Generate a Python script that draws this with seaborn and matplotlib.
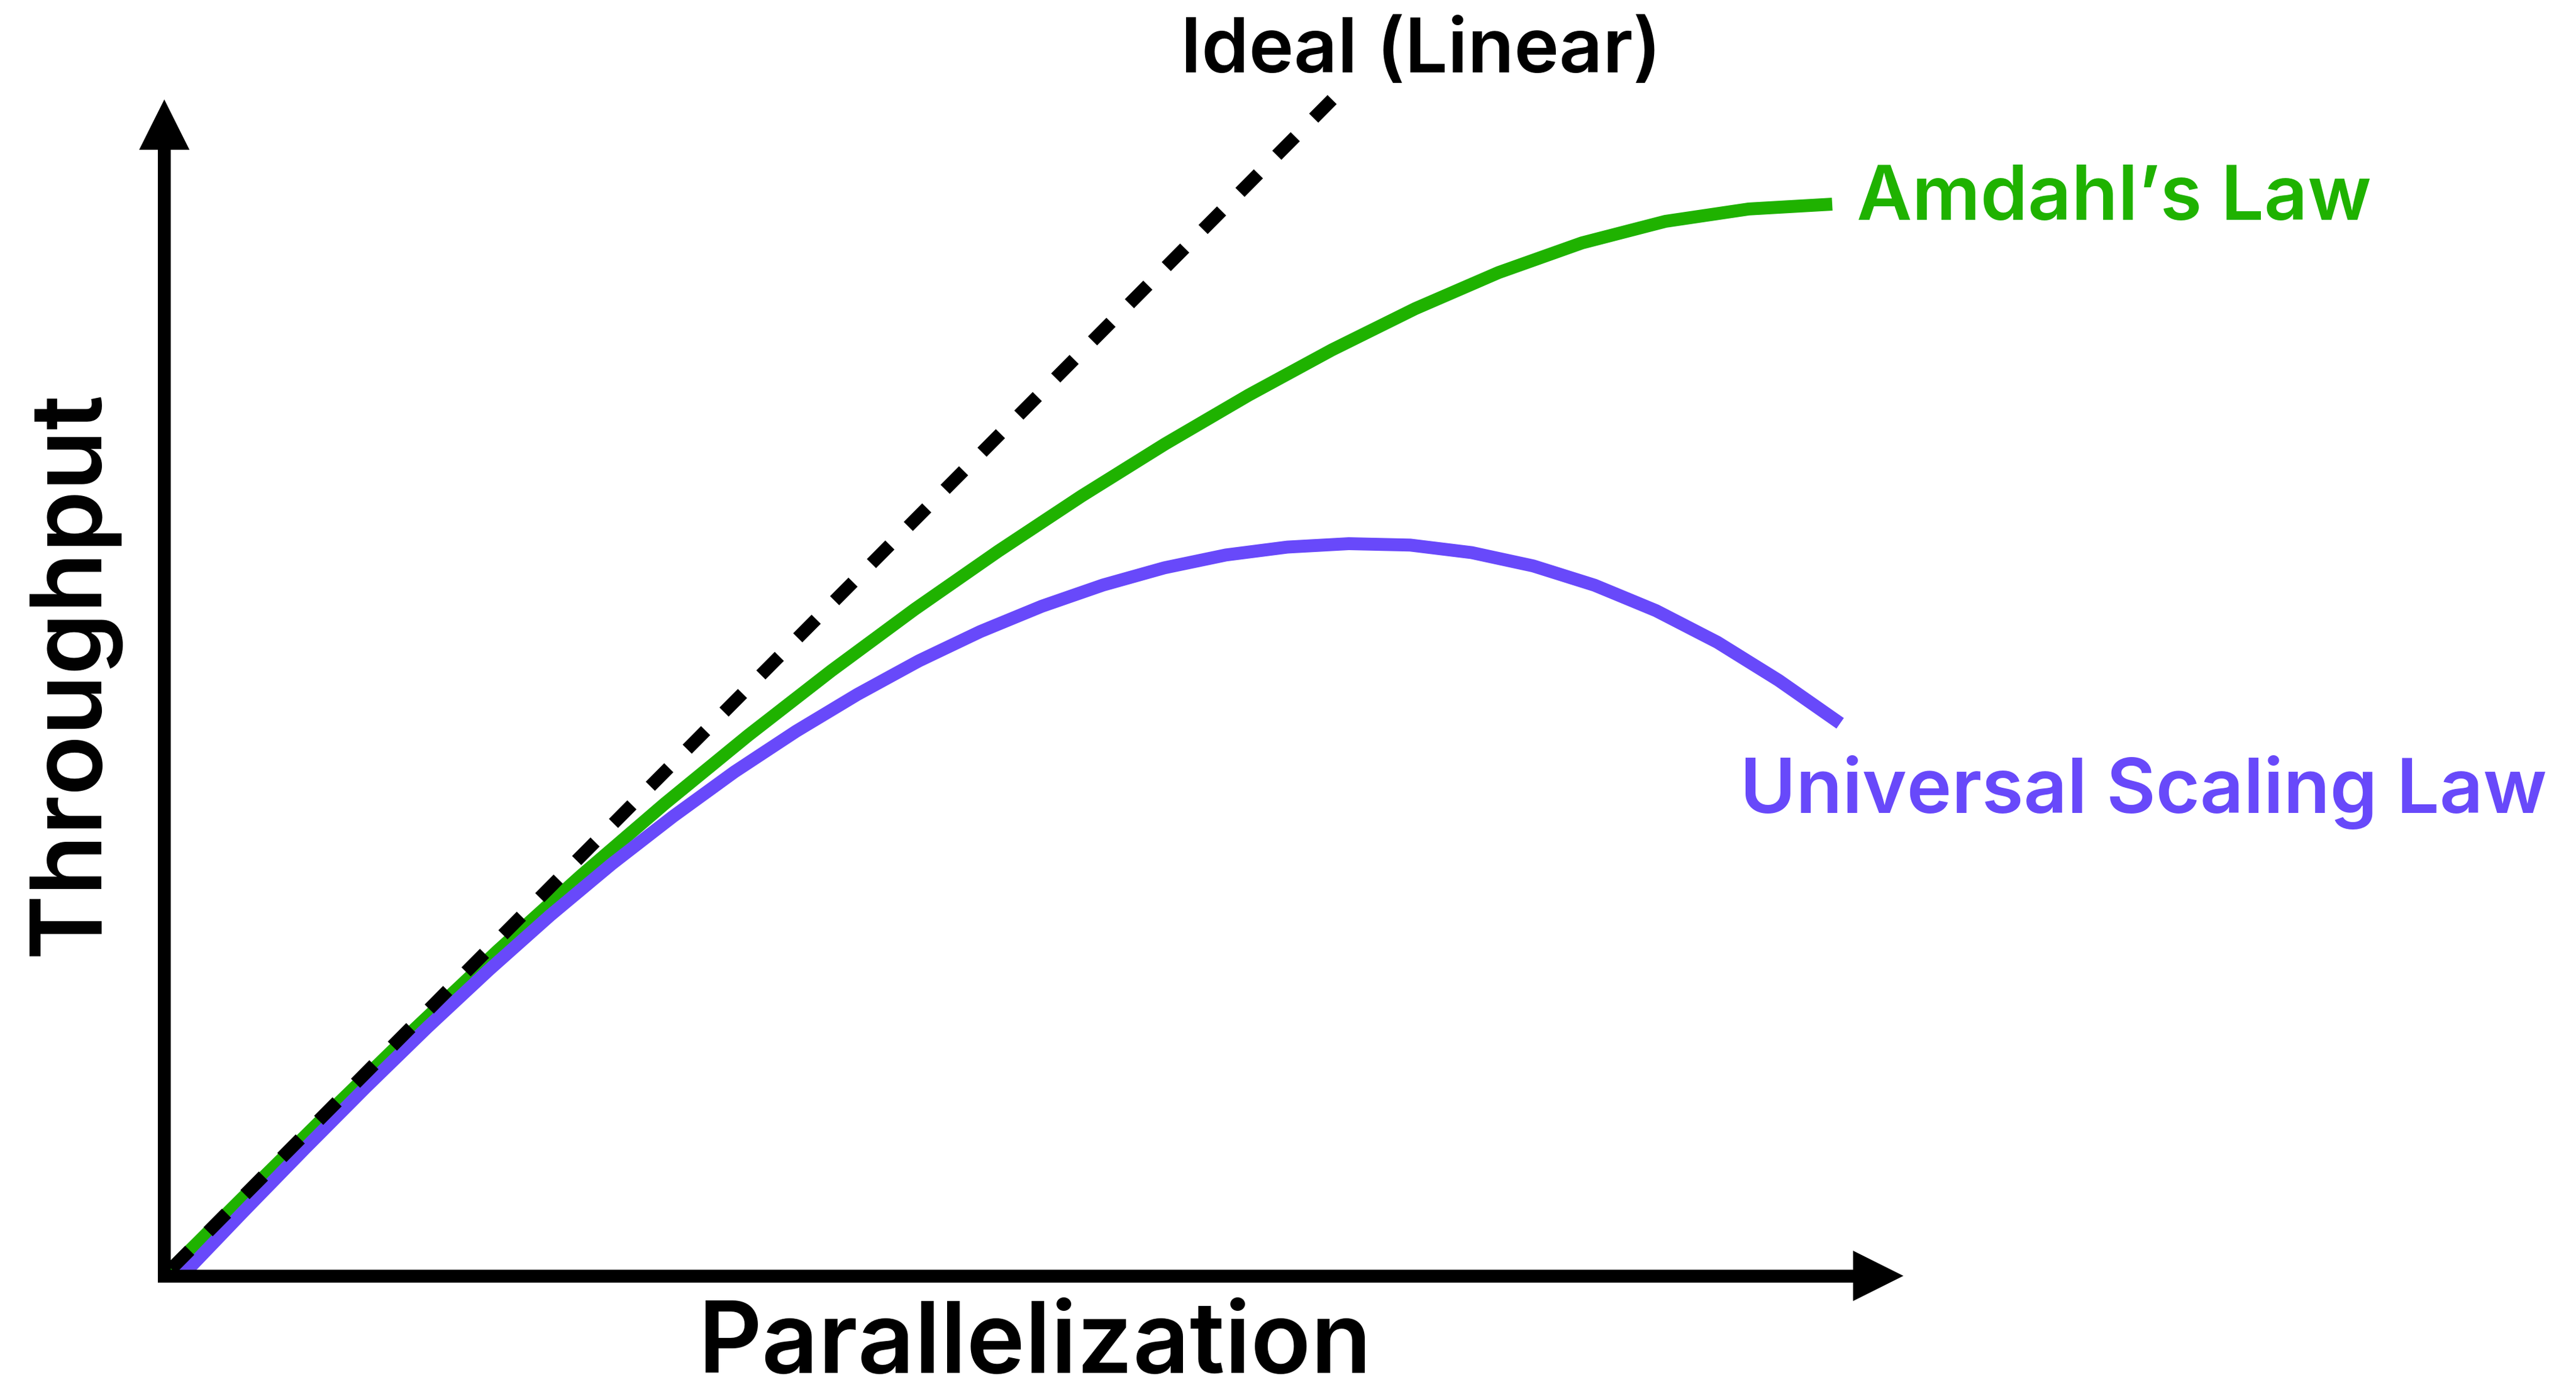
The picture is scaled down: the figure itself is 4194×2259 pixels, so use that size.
import matplotlib
matplotlib.use("Agg")
import matplotlib.pyplot as plt
from matplotlib.patches import Polygon
import seaborn as sns

# Curve samples (parallelization units vs throughput units)
ideal_x = [0, 100]
ideal_y = [0, 100]

amdahl_x = [0, 7.14, 14.28, 21.42, 28.56, 35.70, 42.84, 49.98, 57.12, 64.26,
            71.40, 78.54, 85.68, 92.83, 99.97, 107.11, 114.25, 121.39,
            128.53, 135.67, 142.81]
amdahl_y = [0, 7.06, 14.07, 20.97, 27.65, 34.04, 40.13, 45.93, 51.44, 56.67,
            61.60, 66.29, 70.71, 74.86, 78.71, 82.22, 85.29, 87.81,
            89.64, 90.69, 91.10]

usl_x = [1.50, 6.76, 12.02, 17.28, 22.54, 27.80, 33.05, 38.31, 43.57, 48.83,
         54.09, 59.35, 64.61, 69.87, 75.13, 80.39, 85.64, 90.90, 96.16,
         101.42, 106.68, 111.94, 117.20, 122.46, 127.72, 132.98, 138.23,
         143.49]
usl_y = [0, 5.45, 10.81, 16.06, 21.14, 26.01, 30.65, 35.01, 39.06, 42.85,
         46.29, 49.43, 52.28, 54.77, 56.92, 58.73, 60.19, 61.28, 61.95,
         62.24, 62.12, 61.48, 60.35, 58.71, 56.55, 53.86, 50.62, 46.97]

labels = {
    "ideal": "Ideal (Linear)",
    "amdahl": "Amdahl\u2019s Law",
    "usl": "Universal Scaling Law",
    "x": "Parallelization",
    "y": "Throughput",
}

GREEN = "#1FB200"
PURPLE = "#6849FA"
BLACK = "#000000"

sns.set_theme(style="white")
plt.rcParams["font.family"] = ["Inter", "DejaVu Sans"]

W, H, DPI = 4194, 2259, 100
fig = plt.figure(figsize=(W / DPI, H / DPI), dpi=DPI)
fig.patch.set_facecolor("white")

# axes placed so its lower-left corner is the arrow origin
ox, oy = 267.5, 2078
tip_x, tip_y = 3099, 162
ax = fig.add_axes([ox / W, (H - oy) / H, (tip_x - ox) / W, (oy - tip_y) / H])
ax.set_xlim(0, (tip_x - ox) / 19.015)
ax.set_ylim(0, 100)
ax.axis("off")

LW = 21 * 72 / DPI  # line width in points

sns.lineplot(x=amdahl_x, y=amdahl_y, color=GREEN, lw=LW, estimator=None,
             sort=False, ax=ax, solid_capstyle="butt", solid_joinstyle="round",
             clip_on=False, zorder=2)
sns.lineplot(x=usl_x, y=usl_y, color=PURPLE, lw=LW, estimator=None,
             sort=False, ax=ax, solid_capstyle="butt", solid_joinstyle="round",
             clip_on=False, zorder=3)
sns.lineplot(x=ideal_x, y=ideal_y, color=BLACK, lw=LW, estimator=None,
             sort=False, ax=ax, clip_on=False, zorder=4)
ideal_line = ax.lines[-1]
ideal_line.set_linestyle((3.29, (2.028, 2.028)))
ideal_line.set_dash_capstyle("butt")


def fx(px):
    return px / W


def fy(py):
    return 1 - py / H


def poly(points):
    p = Polygon([(fx(a), fy(b)) for a, b in points], closed=True,
                transform=fig.transFigure, facecolor=BLACK, edgecolor="none",
                zorder=10)
    fig.patches.append(p)


# axis shafts
half = 10.5
poly([(ox - half, 244), (ox + half, 244), (ox + half, oy + half), (ox - half, oy + half)])
poly([(ox - half, oy - half), (3017, oy - half), (3017, oy + half), (ox - half, oy + half)])
# arrow heads
poly([(ox - 41, 244), (ox + 41, 244), (ox, tip_y)])
poly([(3017, oy - 41), (3017, oy + 41), (tip_x, oy)])

# curve labels
fs_lab = 89
fw = "semibold"
fig.text(fx(2313), fy(118), labels["ideal"], color=BLACK, fontsize=fs_lab,
         fontweight=fw, ha="center", va="baseline")
fig.text(fx(3023), fy(358), labels["amdahl"], color=GREEN, fontsize=fs_lab,
         fontweight=fw, ha="left", va="baseline")
fig.text(fx(2833), fy(1324), labels["usl"], color=PURPLE, fontsize=fs_lab,
         fontweight=fw, ha="left", va="baseline")

# axis titles
fs_ax = 116
fig.text(fx(1685), fy(2236), labels["x"], color=BLACK, fontsize=fs_ax,
         fontweight=fw, ha="center", va="baseline")
fig.text(fx(160), fy(1096), labels["y"], color=BLACK, fontsize=fs_ax,
         fontweight=fw, ha="center", va="baseline", rotation=90,
         rotation_mode="anchor")

fig.savefig("out.png", dpi=DPI, facecolor="white")
